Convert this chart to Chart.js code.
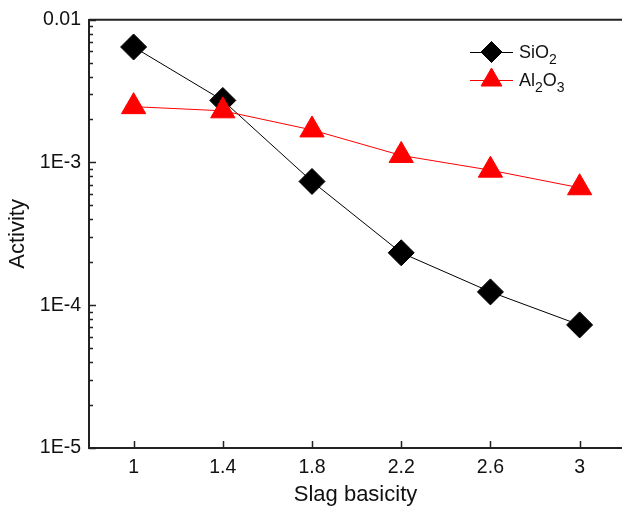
<!DOCTYPE html>
<html>
<head>
<meta charset="utf-8">
<script src="https://cdn.jsdelivr.net/npm/chart.js@4.4.0/dist/chart.umd.min.js"></script>
<style>
  html, body { margin: 0; padding: 0; background: #fff; }
</style>
</head>
<body>
<canvas id="grafico" width="622" height="510"></canvas>
<script>
// dados
const basicity = [1, 1.4, 1.8, 2.2, 2.6, 3];
const sio2 = [6.44e-3, 2.72e-3, 7.36e-4, 2.33e-4, 1.24e-4, 7.28e-5];
const al2o3 = [2.46e-3, 2.30e-3, 1.69e-3, 1.12e-3, 8.83e-4, 6.65e-4];
const xTicks = [1, 1.4, 1.8, 2.2, 2.6, 3];
const yTicks = [1e-5, 1e-4, 1e-3, 1e-2];
const yTickLabels = ['1E-5', '1E-4', '1E-3', '0.01'];
const minorMult = [2, 3, 4, 5, 6, 7, 8, 9];

const FONT = '"Liberation Sans", Arial, sans-serif';
const AXIS = '#222';

// ticks para dentro + linha de cima
const moldura = {
    id: 'moldura',
    beforeDatasetsDraw(chart) {
        const { ctx, chartArea, scales } = chart;
        ctx.save();
        ctx.strokeStyle = AXIS;
        ctx.lineWidth = 1.5;
        ctx.beginPath();
        yTicks.forEach(v => {
            const y = Math.round(scales.y.getPixelForValue(v)) + 0.5;
            ctx.moveTo(chartArea.left, y);
            ctx.lineTo(chartArea.left + 7, y);
        });
        yTicks.slice(0, -1).forEach(d => {
            minorMult.forEach(m => {
                const y = Math.round(scales.y.getPixelForValue(m * d)) + 0.5;
                ctx.moveTo(chartArea.left, y);
                ctx.lineTo(chartArea.left + 4, y);
            });
        });
        xTicks.forEach(v => {
            const x = Math.round(scales.x.getPixelForValue(v)) + 0.5;
            ctx.moveTo(x, chartArea.bottom);
            ctx.lineTo(x, chartArea.bottom - 7);
        });
        ctx.stroke();

        ctx.lineWidth = 2;
        ctx.beginPath();
        ctx.moveTo(chartArea.left, chartArea.top);
        ctx.lineTo(chartArea.right, chartArea.top);
        ctx.stroke();
        ctx.restore();
    }
};

// legenda com subscritos
const legenda = {
    id: 'legenda',
    afterDraw(chart) {
        const ctx = chart.ctx;
        const linhas = [
            { ds: 1, y: 52, parts: [['SiO', 0], ['2', 1]], r: 10.5 },
            { ds: 0, y: 80, parts: [['Al', 0], ['2', 1], ['O', 0], ['3', 1]], r: 12 }
        ];
        ctx.save();
        linhas.forEach(l => {
            const d = chart.data.datasets[l.ds];
            ctx.strokeStyle = d.borderColor;
            ctx.lineWidth = 1;
            ctx.beginPath();
            ctx.moveTo(470, l.y + 0.5);
            ctx.lineTo(513, l.y + 0.5);
            ctx.stroke();

            ctx.fillStyle = d.pointBackgroundColor;
            ctx.strokeStyle = d.pointBorderColor;
            Chart.helpers.drawPoint(ctx, {
                pointStyle: d.pointStyle, radius: l.r, rotation: 0, borderWidth: 1
            }, 491.5, l.y);

            let x = 519;
            ctx.fillStyle = '#111';
            ctx.textBaseline = 'alphabetic';
            l.parts.forEach(([txt, sub]) => {
                ctx.font = (sub ? '14px ' : '18px ') + FONT;
                ctx.fillText(txt, x, l.y + 6 + (sub ? 5.5 : 0));
                x += ctx.measureText(txt).width;
            });
        });
        ctx.restore();
    }
};

const ctx = document.getElementById('grafico');
new Chart(ctx, {
    type: 'line',
    data: {
        datasets: [
            {
                label: 'Al2O3',
                data: basicity.map((b, i) => ({ x: b, y: al2o3[i] })),
                borderColor: '#ff0000',
                borderWidth: 1,
                pointStyle: 'triangle',
                pointRadius: 14,
                pointHoverRadius: 14,
                pointBackgroundColor: '#ff0000',
                pointBorderColor: '#ff0000',
                pointBorderWidth: 1,
                order: 0
            },
            {
                label: 'SiO2',
                data: basicity.map((b, i) => ({ x: b, y: sio2[i] })),
                borderColor: '#000000',
                borderWidth: 1,
                pointStyle: 'rectRot',
                pointRadius: 13,
                pointHoverRadius: 13,
                pointBackgroundColor: '#000000',
                pointBorderColor: '#000000',
                pointBorderWidth: 1,
                order: 1
            }
        ]
    },
    options: {
        responsive: false,
        animation: false,
        layout: { autoPadding: false, padding: { top: 14, left: 0, right: 0, bottom: 0 } },
        plugins: {
            legend: { display: false },
            tooltip: { enabled: false }
        },
        scales: {
            x: {
                type: 'linear',
                min: 0.8,
                max: 3.19,
                afterBuildTicks: s => { s.ticks = xTicks.map(v => ({ value: v })); },
                afterFit: s => { s.height = 62; },
                grid: { display: false, drawTicks: false },
                border: { display: true, color: AXIS, width: 2 },
                ticks: {
                    color: '#111',
                    padding: 8,
                    font: { family: FONT, size: 19.5 },
                    callback: v => String(v)
                },
                title: {
                    display: true,
                    text: 'Slag basicity',
                    color: '#111',
                    font: { family: FONT, size: 22 },
                    padding: { top: 2, bottom: 2 }
                }
            },
            y: {
                type: 'logarithmic',
                min: 1e-5,
                max: 1e-2,
                afterBuildTicks: s => { s.ticks = yTicks.map(v => ({ value: v })); },
                afterFit: s => { s.width = 89; },
                grid: { display: false, drawTicks: false },
                border: { display: true, color: AXIS, width: 2 },
                ticks: {
                    color: '#111',
                    padding: 8,
                    font: { family: FONT, size: 19.5 },
                    callback: v => yTickLabels[yTicks.findIndex(t => Math.abs(Math.log10(t) - Math.log10(v)) < 1e-6)]
                },
                title: {
                    display: true,
                    text: 'Activity',
                    color: '#111',
                    font: { family: FONT, size: 22 },
                    padding: { top: 5, bottom: 5 }
                }
            }
        }
    },
    plugins: [moldura, legenda]
});
</script>
</body>
</html>
